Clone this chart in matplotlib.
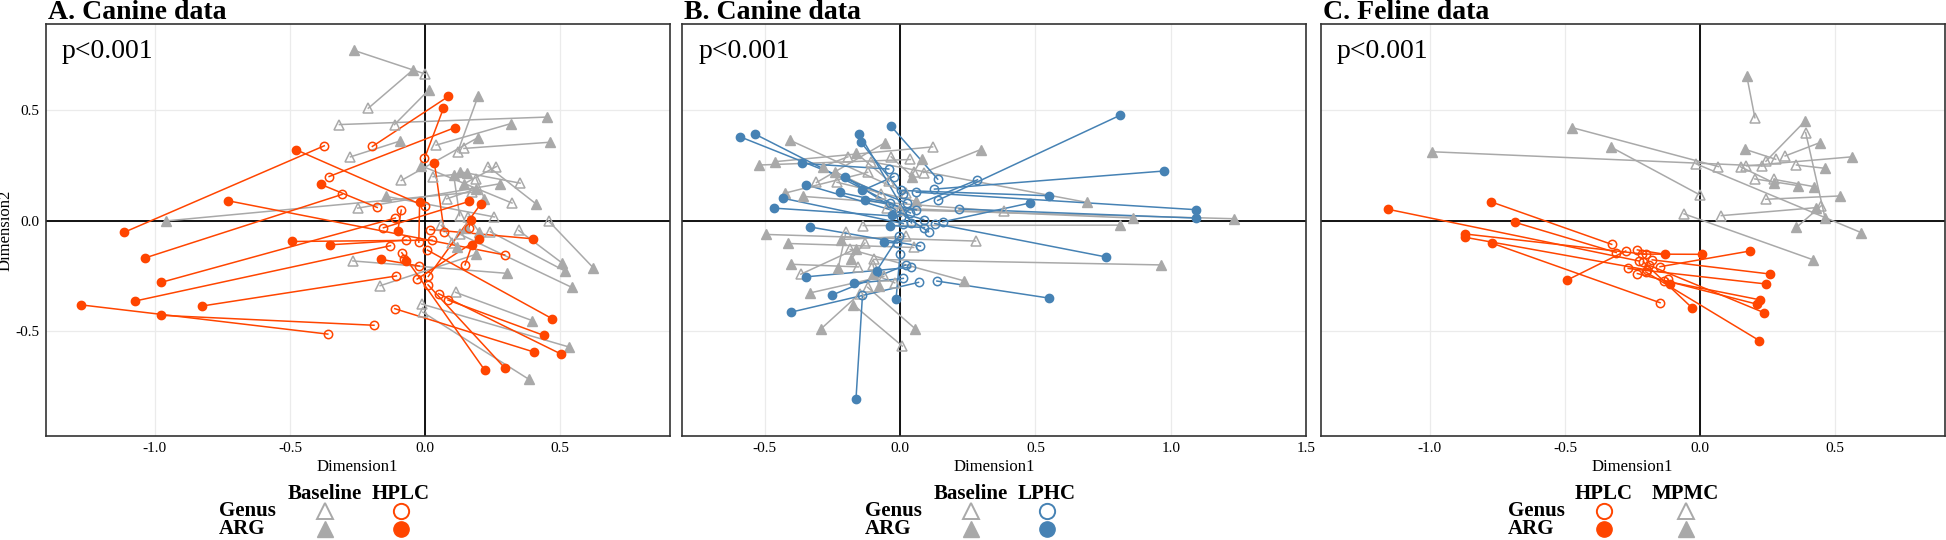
import matplotlib.pyplot as plt
import numpy as np

plt.rcParams["font.family"] = ["Liberation Serif", "DejaVu Serif"]
plt.rcParams["axes.unicode_minus"] = False

ORANGE = "#FF4500"
BLUE = "#4682B4"
GREY = "#A9A9A9"

# ---- A. Canine data: Baseline vs HPLC (Genus = open, ARG = filled) ----
a_base_genus = [(0.0, 0.665), (-0.210, 0.510), (-0.113, 0.436), (-0.317, 0.436),
                (0.121, 0.313), (0.041, 0.343), (0.144, 0.328), (-0.276, 0.290),
                (-0.088, 0.183), (0.322, 0.081), (0.352, 0.171), (0.128, 0.024),
                (0.264, 0.246), (0.234, 0.246), (-0.249, 0.058), (0.257, 0.018),
                (0.175, 0.130), (0.458, -0.001), (0.347, -0.043), (0.242, -0.049),
                (0.131, -0.061), (-0.267, -0.181), (-0.166, -0.293), (0.113, -0.323),
                (-0.012, -0.376), (-0.008, -0.413), (0.080, 0.100), (0.030, 0.200),
                (0.100, -0.100), (0.160, 0.020), (0.060, -0.020), (0.190, 0.190)]
a_base_arg = [(-0.264, 0.772), (-0.045, 0.683), (0.015, 0.594), (0.453, 0.470),
              (0.196, 0.563), (0.317, 0.440), (0.461, 0.356), (-0.091, 0.362),
              (0.196, 0.377), (-0.015, 0.250), (0.128, 0.223), (0.106, 0.208),
              (0.144, 0.168), (0.412, 0.076), (0.276, 0.168), (-0.144, 0.111),
              (-0.959, 0.0), (0.622, -0.211), (0.506, -0.189), (0.517, -0.226),
              (0.544, -0.301), (0.302, -0.237), (0.189, -0.151), (0.397, -0.451),
              (0.532, -0.570), (0.385, -0.717), (0.189, 0.145), (0.154, 0.216),
              (0.150, -0.030), (0.200, -0.050), (0.120, -0.120), (0.220, 0.100)]
a_hplc_genus = [(-0.195, 0.337), (-0.002, 0.283), (-0.355, 0.201), (0.0, 0.066),
                (-0.177, 0.061), (0.295, -0.154), (-0.373, 0.340), (-0.307, 0.120),
                (-0.110, 0.013), (-0.128, -0.112), (-0.106, -0.249), (-0.360, -0.512),
                (-0.189, -0.472), (0.026, -0.087), (-0.023, -0.096), (0.071, -0.048),
                (-0.154, -0.031), (0.018, -0.039), (-0.088, 0.049), (-0.069, -0.087),
                (-0.021, -0.204), (-0.079, -0.174), (-0.112, -0.397), (0.009, -0.132),
                (0.085, -0.358), (0.050, -0.329), (0.011, -0.289), (-0.086, -0.144),
                (0.012, -0.251), (0.162, -0.031), (-0.029, -0.263), (0.148, -0.199)]
a_hplc_arg = [(0.086, 0.563), (0.068, 0.509), (0.110, 0.422), (-0.479, 0.323),
              (-0.385, 0.165), (-0.728, 0.091), (-1.113, -0.051), (-1.038, -0.168),
              (-0.977, -0.278), (-1.072, -0.362), (-0.826, -0.385), (-1.272, -0.380),
              (-0.977, -0.427), (-0.494, -0.093), (-0.020, 0.087), (0.035, 0.260),
              (0.162, 0.088), (0.400, -0.081), (-0.101, -0.045), (-0.352, -0.108),
              (-0.162, -0.174), (-0.070, -0.181), (0.403, -0.593), (0.470, -0.442),
              (0.440, -0.518), (0.503, -0.602), (0.295, -0.665), (0.221, -0.675),
              (0.207, 0.078), (0.171, 0.006), (0.198, -0.081), (0.174, -0.108)]

# ---- B. Canine data: Baseline vs LPHC ----
b_base_genus = [(0.023, 0.126), (0.038, 0.278), (0.120, 0.335), (-0.309, 0.174),
                (-0.193, 0.290), (0.087, 0.219), (-0.108, 0.268), (-0.233, 0.175),
                (-0.033, 0.290), (0.384, 0.043), (-0.050, 0.060), (0.0, 0.050),
                (-0.136, -0.021), (-0.120, 0.220), (0.279, -0.091), (0.050, -0.120),
                (0.020, -0.070), (-0.098, -0.174), (-0.154, -0.208), (-0.367, -0.241),
                (0.008, -0.566), (-0.184, -0.129), (-0.150, -0.330), (-0.120, -0.300),
                (-0.060, -0.250), (-0.100, -0.200), (-0.040, 0.180), (-0.200, -0.050),
                (-0.070, 0.120), (-0.130, -0.100), (0.050, 0.220), (-0.020, -0.280)]
b_base_arg = [(-0.407, 0.365), (-0.520, 0.253), (-0.464, 0.268), (-0.057, 0.353),
              (-0.286, 0.246), (0.298, 0.323), (0.690, 0.084), (0.060, 0.088),
              (0.045, 0.201), (-0.358, 0.111), (0.861, 0.013), (1.235, 0.010),
              (0.813, -0.019), (-0.425, 0.126), (-0.497, -0.061), (-0.414, -0.102),
              (-0.218, -0.084), (0.964, -0.199), (-0.404, -0.196), (-0.163, -0.126),
              (-0.173, -0.379), (0.236, -0.271), (-0.292, -0.488), (0.056, -0.488),
              (-0.334, -0.326), (-0.078, -0.293), (-0.163, 0.308), (-0.229, -0.214),
              (-0.241, 0.223), (-0.181, -0.171), (0.080, 0.280), (-0.100, -0.240)]
b_lphc_genus = [(0.139, 0.189), (0.003, 0.138), (0.060, 0.130), (0.024, 0.081),
                (0.038, 0.036), (0.042, -0.009), (0.010, 0.120), (-0.042, 0.235),
                (0.087, 0.006), (0.012, -0.012), (0.005, 0.020), (0.105, -0.049),
                (-0.038, 0.081), (-0.023, 0.201), (0.060, 0.050), (0.286, 0.186),
                (0.090, -0.030), (0.075, -0.114), (-0.010, -0.100), (0.139, 0.093),
                (0.127, 0.144), (0.218, 0.054), (0.158, -0.004), (0.128, -0.012),
                (0.039, -0.210), (-0.003, -0.066), (0.012, -0.260), (0.020, -0.200),
                (0.068, -0.278), (0.0, -0.151), (0.136, -0.272), (-0.139, -0.335)]
b_lphc_arg = [(-0.033, 0.428), (0.550, 0.114), (1.092, 0.051), (-0.590, 0.380),
              (-0.535, 0.392), (-0.151, 0.395), (-0.146, 0.358), (-0.361, 0.260),
              (-0.346, 0.163), (-0.434, 0.103), (-0.467, 0.058), (-0.203, 0.201),
              (-0.223, 0.129), (-0.139, 0.138), (-0.128, 0.096), (-0.030, 0.028),
              (-0.036, -0.021), (-0.334, -0.027), (-0.060, -0.096), (0.813, 0.478),
              (0.976, 0.226), (1.092, 0.013), (0.479, 0.081), (0.761, -0.163),
              (-0.349, -0.253), (-0.087, -0.226), (-0.170, -0.283), (-0.251, -0.335),
              (-0.404, -0.413), (-0.015, -0.353), (0.550, -0.349), (-0.163, -0.805)]

# ---- C. Feline data: HPLC vs MPMC ----
c_hplc_genus = [(-0.227, -0.181), (-0.327, -0.106), (-0.310, -0.143), (-0.201, -0.151),
                (-0.195, -0.222), (-0.148, -0.370), (-0.275, -0.136), (-0.232, -0.131),
                (-0.215, -0.150), (-0.148, -0.207), (-0.177, -0.176), (-0.266, -0.215),
                (-0.133, -0.271), (-0.232, -0.238), (-0.190, -0.200), (-0.201, -0.231),
                (-0.210, -0.185), (-0.120, -0.262)]
c_hplc_arg = [(-1.156, 0.053), (-0.775, 0.087), (-0.686, -0.006), (-0.870, -0.059),
              (-0.870, -0.074), (-0.769, -0.101), (-0.491, -0.267), (-0.130, -0.151),
              (0.006, -0.151), (0.185, -0.136), (0.258, -0.240), (0.243, -0.285),
              (0.222, -0.357), (0.212, -0.377), (0.237, -0.415), (0.219, -0.541),
              (-0.028, -0.395), (-0.111, -0.287)]
c_mpmc_genus = [(0.203, 0.467), (0.068, 0.246), (-0.001, 0.118), (0.228, 0.249),
                (-0.014, 0.258), (0.315, 0.294), (0.391, 0.400), (0.357, 0.253),
                (0.172, 0.249), (0.244, 0.270), (0.280, 0.279), (0.203, 0.190),
                (0.274, 0.188), (0.150, 0.245), (0.243, 0.098), (0.079, 0.024),
                (0.449, 0.069), (-0.059, 0.032)]
c_mpmc_arg = [(0.173, 0.656), (-0.473, 0.422), (-0.328, 0.333), (-0.992, 0.313),
              (0.597, -0.053), (0.443, 0.354), (0.463, 0.012), (0.463, 0.238),
              (0.562, 0.290), (0.389, 0.452), (0.167, 0.324), (0.363, 0.160),
              (0.422, 0.155), (0.272, 0.173), (0.517, 0.113), (0.428, 0.060),
              (0.357, -0.029), (0.419, -0.176)]

titles = ["A. Canine data", "B. Canine data", "C. Feline data"]
legend_cols = [("Baseline", "HPLC"), ("Baseline", "LPHC"), ("HPLC", "MPMC")]
x_ticks = [[-1.0, -0.5, 0.0, 0.5], [-0.5, 0.0, 0.5, 1.0, 1.5], [-1.0, -0.5, 0.0, 0.5]]
y_ticks = [-0.5, 0.0, 0.5]

W, H = 1946, 540
fig = plt.figure(figsize=(W / 100, H / 100), dpi=100)

ax_left = [45.5, 682, 1320.5]
ax_w, ax_top, ax_bot = 624, 24, 436
xlims = [(-1.405, 0.905), (-0.806, 1.5), (-1.405, 0.905)]
ylim = (-0.973, 0.891)


def draw_pairs(ax, genus, arg, color, marker, ms):
    g = np.array(genus)
    r = np.array(arg)
    for (x0, y0), (x1, y1) in zip(g, r):
        ax.plot([x0, x1], [y0, y1], color=color, lw=1.1, zorder=3)
    ax.plot(g[:, 0], g[:, 1], ls="none", marker=marker, ms=ms, mfc="none",
            mec=color, mew=1.1, zorder=4)
    ax.plot(r[:, 0], r[:, 1], ls="none", marker=marker, ms=ms, mfc=color,
            mec=color, zorder=4)


axes = []
for i in range(3):
    ax = fig.add_axes([ax_left[i] / W, 1 - ax_bot / H, ax_w / W, (ax_bot - ax_top) / H])
    ax.set_xticks(x_ticks[i])
    ax.set_yticks(y_ticks)
    ax.set_xticklabels([f"{v:.1f}" for v in x_ticks[i]])
    ax.set_yticklabels([f"{v:.1f}" for v in y_ticks])
    ax.set_xlim(*xlims[i])
    ax.set_ylim(*ylim)
    ax.grid(True, color="#EBEBEB", lw=0.9, zorder=0)
    ax.set_axisbelow(True)
    ax.axhline(0, color="black", lw=1.3, zorder=2)
    ax.axvline(0, color="black", lw=1.3, zorder=2)
    for s in ax.spines.values():
        s.set_color("#333333")
        s.set_linewidth(1.2)
    ax.tick_params(length=0, labelsize=11, pad=4.5, colors="black")
    ax.set_xlabel("Dimension1", fontsize=12, labelpad=3)
    if i == 0:
        ax.set_ylabel("Dimension2", fontsize=12)
        ax.yaxis.set_label_coords(-0.051, 0.5)
    else:
        ax.tick_params(axis="y", labelleft=False)
    ax.text(0.026, 0.917, "p<0.001", transform=ax.transAxes, fontsize=20,
            va="baseline", ha="left")
    axes.append(ax)

draw_pairs(axes[0], a_base_genus, a_base_arg, GREY, "^", 7.5)
draw_pairs(axes[0], a_hplc_genus, a_hplc_arg, ORANGE, "o", 6)
draw_pairs(axes[1], b_base_genus, b_base_arg, GREY, "^", 7.5)
draw_pairs(axes[1], b_lphc_genus, b_lphc_arg, BLUE, "o", 6)
draw_pairs(axes[2], c_mpmc_genus, c_mpmc_arg, GREY, "^", 7.5)
draw_pairs(axes[2], c_hplc_genus, c_hplc_arg, ORANGE, "o", 6)

# overlay in pixel coordinates for titles and the two-way legends
lay = fig.add_axes([0, 0, 1, 1])
lay.set_xlim(0, W)
lay.set_ylim(H, 0)
lay.axis("off")

for i in range(3):
    lay.text(ax_left[i] + 2.5, 19, titles[i], fontsize=20, fontweight="bold",
             ha="left", va="baseline")

leg_row_x = [219, 865, 1507.6]
leg_col_x = [(324.5, 400.5), (971, 1047), (1604, 1685.5)]
leg_keys = [(("^", GREY), ("o", ORANGE)), (("^", GREY), ("o", BLUE)),
            (("o", ORANGE), ("^", GREY))]
for i in range(3):
    c1, c2 = leg_col_x[i]
    for cx, head in zip((c1, c2), legend_cols[i]):
        lay.text(cx, 499, head, fontsize=15, fontweight="bold", ha="center", va="baseline")
    lay.text(leg_row_x[i], 516, "Genus", fontsize=15, fontweight="bold", va="baseline")
    lay.text(leg_row_x[i], 534, "ARG", fontsize=15, fontweight="bold", va="baseline")
    for cx, (mk, col) in zip((c1, c2), leg_keys[i]):
        lay.plot([cx], [511], marker=mk, ms=11, mfc="none", mec=col, mew=1.4, ls="none")
        lay.plot([cx], [529], marker=mk, ms=11, mfc=col, mec=col, ls="none")

fig.savefig("out.png", dpi=100)
